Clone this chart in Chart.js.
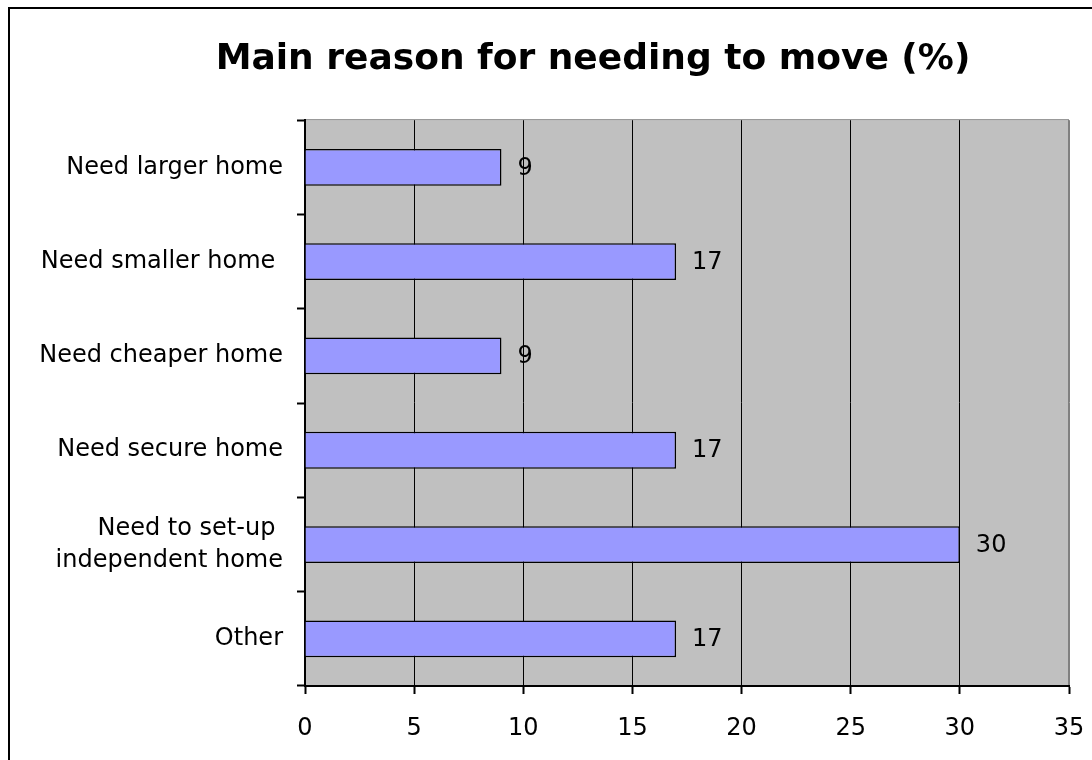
<!DOCTYPE html>
<html lang="en">
<head>
    <meta charset="UTF-8">
    <title>Main reason for needing to move</title>
    <script src="https://cdn.jsdelivr.net/npm/chart.js"></script>
    <style>
        html, body { margin: 0; padding: 0; overflow: hidden; background: #fff; }
        #frame {
            position: absolute;
            left: 8px;
            top: 7px;
            width: 1200px;
            height: 800px;
            border: 2px solid #000;
        }
        #chart { position: absolute; left: 0; top: 0; }
    </style>
</head>
<body>

<div id="frame"></div>
<canvas id="chart" width="1186" height="760"></canvas>

<script>
    // Chart data
    const chartTitle = 'Main reason for needing to move (%)';
    const reasons = [
        'Need larger home',
        'Need smaller home ',
        'Need cheaper home',
        'Need secure home',
        ['Need to set-up ', 'independent home'],
        'Other'
    ];
    const percentages = [9, 17, 9, 17, 30, 17];
    const axisMin = 0;
    const axisMax = 35;
    const axisStep = 5;

    const FONT = "'DejaVu Sans', Verdana, sans-serif";

    // grey plot area with a grey border (top/right show, axes cover the rest)
    const plotBackground = {
        id: 'plotBackground',
        beforeDraw(chart) {
            const a = chart.chartArea;
            const ctx = chart.ctx;
            ctx.save();
            ctx.fillStyle = '#C0C0C0';
            ctx.fillRect(a.left, a.top, a.right - a.left, a.bottom - a.top);
            ctx.strokeStyle = '#808080';
            ctx.lineWidth = 1;
            ctx.strokeRect(a.left + 0.5, a.top - 0.5, a.right - a.left - 1, a.bottom - a.top);
            ctx.restore();
        }
    };

    // the original title is centred on the whole (wider) chart frame,
    // not on the area left over after the right-hand padding
    const titleSpan = {
        id: 'titleSpan',
        afterLayout(chart) {
            if (chart.titleBlock) {
                chart.titleBlock.left = 0;
                chart.titleBlock.right = chart.width;
            }
        }
    };

    // value labels to the right of each bar
    const valueLabels = {
        id: 'valueLabels',
        afterDatasetsDraw(chart) {
            const ctx = chart.ctx;
            const meta = chart.getDatasetMeta(0);
            ctx.save();
            ctx.font = '24px ' + FONT;
            ctx.fillStyle = '#000';
            ctx.textAlign = 'left';
            ctx.textBaseline = 'middle';
            meta.data.forEach((bar, i) => {
                ctx.fillText(String(percentages[i]), bar.x + 16, bar.y + 1);
            });
            ctx.restore();
        }
    };

    const ctx = document.getElementById('chart').getContext('2d');
    const chart = new Chart(ctx, {
        type: 'bar',
        data: {
            labels: reasons,
            datasets: [{
                data: percentages,
                backgroundColor: '#9999FF',
                borderColor: '#000',
                borderWidth: 1.5,
                categoryPercentage: 1,
                barPercentage: 0.39
            }]
        },
        options: {
            indexAxis: 'y',
            responsive: false,
            animation: false,
            devicePixelRatio: 1,
            layout: { padding: { left: 0, right: 117, top: 0, bottom: 0 } },
            plugins: {
                legend: { display: false },
                tooltip: { enabled: false },
                title: {
                    display: true,
                    text: chartTitle,
                    color: '#000',
                    font: { family: FONT, size: 36, weight: 'bold', lineHeight: 1.2 },
                    padding: { top: 38, bottom: 39 }
                }
            },
            scales: {
                x: {
                    type: 'linear',
                    min: axisMin,
                    max: axisMax,
                    ticks: {
                        stepSize: axisStep,
                        color: '#000',
                        font: { family: FONT, size: 24 },
                        padding: 20
                    },
                    grid: {
                        color: (c) => (c.tick && c.tick.value === axisMax) ? '#808080' : '#000',
                        tickColor: '#000',
                        tickLength: 8,
                        tickWidth: 2,
                        lineWidth: 1
                    },
                    border: { color: '#000', width: 2 },
                    afterFit(scale) { scale.height = 74; }
                },
                y: {
                    ticks: {
                        color: '#000',
                        font: { family: FONT, size: 24, lineHeight: 1.33 },
                        padding: 14
                    },
                    grid: {
                        offset: true,
                        drawOnChartArea: false,
                        tickColor: '#000',
                        tickLength: 8,
                        tickWidth: 2
                    },
                    border: { color: '#000', width: 2 },
                    afterFit(scale) { scale.width = 305; }
                }
            }
        },
        plugins: [plotBackground, titleSpan, valueLabels]
    });
</script>

</body>
</html>
